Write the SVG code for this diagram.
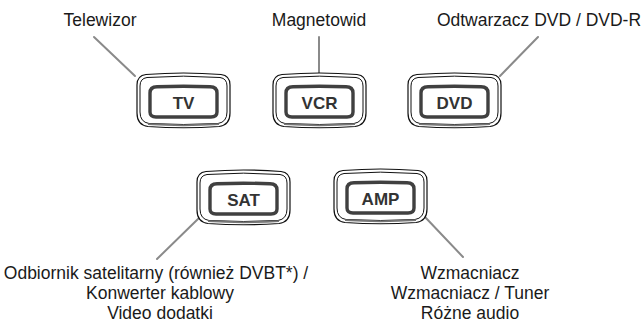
<svg xmlns="http://www.w3.org/2000/svg" xmlns:xlink="http://www.w3.org/1999/xlink" width="642" height="323" viewBox="0 0 642 323">
<style>
.lbl{font-family:"Liberation Sans",Arial,sans-serif;font-size:17.5px;fill:#1a1a1a;text-anchor:middle}
.key{font-family:"Liberation Sans",Arial,sans-serif;font-size:17px;font-weight:bold;fill:#333;text-anchor:middle}
.conn{stroke:#8a8a8a;stroke-width:2;fill:none;stroke-linecap:round}
</style>
<defs>
<g id="frame">
<path d="M10,1.5 Q47.5,-1.5 85,1.5 Q94,2.5 94,12 L94,40 Q94,52 83,53.5 Q47.5,56 12,53.5 Q1,52 1,40 L1,12 Q1,2.5 10,1.5 Z" fill="#fff" stroke="#111" stroke-width="1.2"/>
<path d="M11,4.5 Q47.5,1.8 84,4.5 Q91,5.5 91,13 L91,39 Q91,49 82,50.5 Q47.5,52.5 13,50.5 Q4,49 4,39 L4,13 Q4,5.5 11,4.5 Z" fill="#fff" stroke="#111" stroke-width="1"/>
<path d="M12,51.2 Q47.5,53.4 83,51.2" fill="none" stroke="#777" stroke-width="1.8"/>
<path d="M14,20 Q14,14 21,13.8 Q47.5,12.6 74,13.8 Q81,14 81,20 L81,39 Q81,44 75,44 L20,44 Q14,44 14,39 Z" fill="#fff" stroke="#404040" stroke-width="3.4"/>
</g>
</defs>
<g id="connectors">
<line class="conn" x1="94" y1="37" x2="135" y2="76"/>
<line class="conn" x1="319" y1="37" x2="319" y2="73"/>
<line class="conn" x1="538" y1="37" x2="500" y2="76"/>
<line class="conn" x1="199" y1="218" x2="157" y2="259"/>
<line class="conn" x1="425" y1="217" x2="463" y2="257"/>
</g>
<g id="tv">
<use xlink:href="#frame" x="136" y="73"/>
<text class="key" x="183.5" y="108.5">TV</text>
<text class="lbl" x="100" y="26">Telewizor</text>
</g>
<g id="vcr">
<use xlink:href="#frame" x="272" y="73"/>
<text class="key" x="319.5" y="108.5">VCR</text>
<text class="lbl" x="319" y="26">Magnetowid</text>
</g>
<g id="dvd">
<use xlink:href="#frame" x="407" y="73"/>
<text class="key" x="454.5" y="108.5">DVD</text>
<text class="lbl" x="539" y="26">Odtwarzacz DVD / DVD-R</text>
</g>
<g id="sat">
<use xlink:href="#frame" x="196" y="170"/>
<text class="key" x="243.5" y="205.5">SAT</text>
<text class="lbl" x="156" y="279">Odbiornik satelitarny (również DVBT*) /</text>
<text class="lbl" x="160" y="299">Konwerter kablowy</text>
<text class="lbl" x="160" y="319">Video dodatki</text>
</g>
<g id="amp">
<use xlink:href="#frame" x="333" y="169"/>
<text class="key" x="380.5" y="204.5">AMP</text>
<text class="lbl" x="470" y="279">Wzmacniacz</text>
<text class="lbl" x="470" y="299">Wzmacniacz / Tuner</text>
<text class="lbl" x="470" y="319">Różne audio</text>
</g>
</svg>
